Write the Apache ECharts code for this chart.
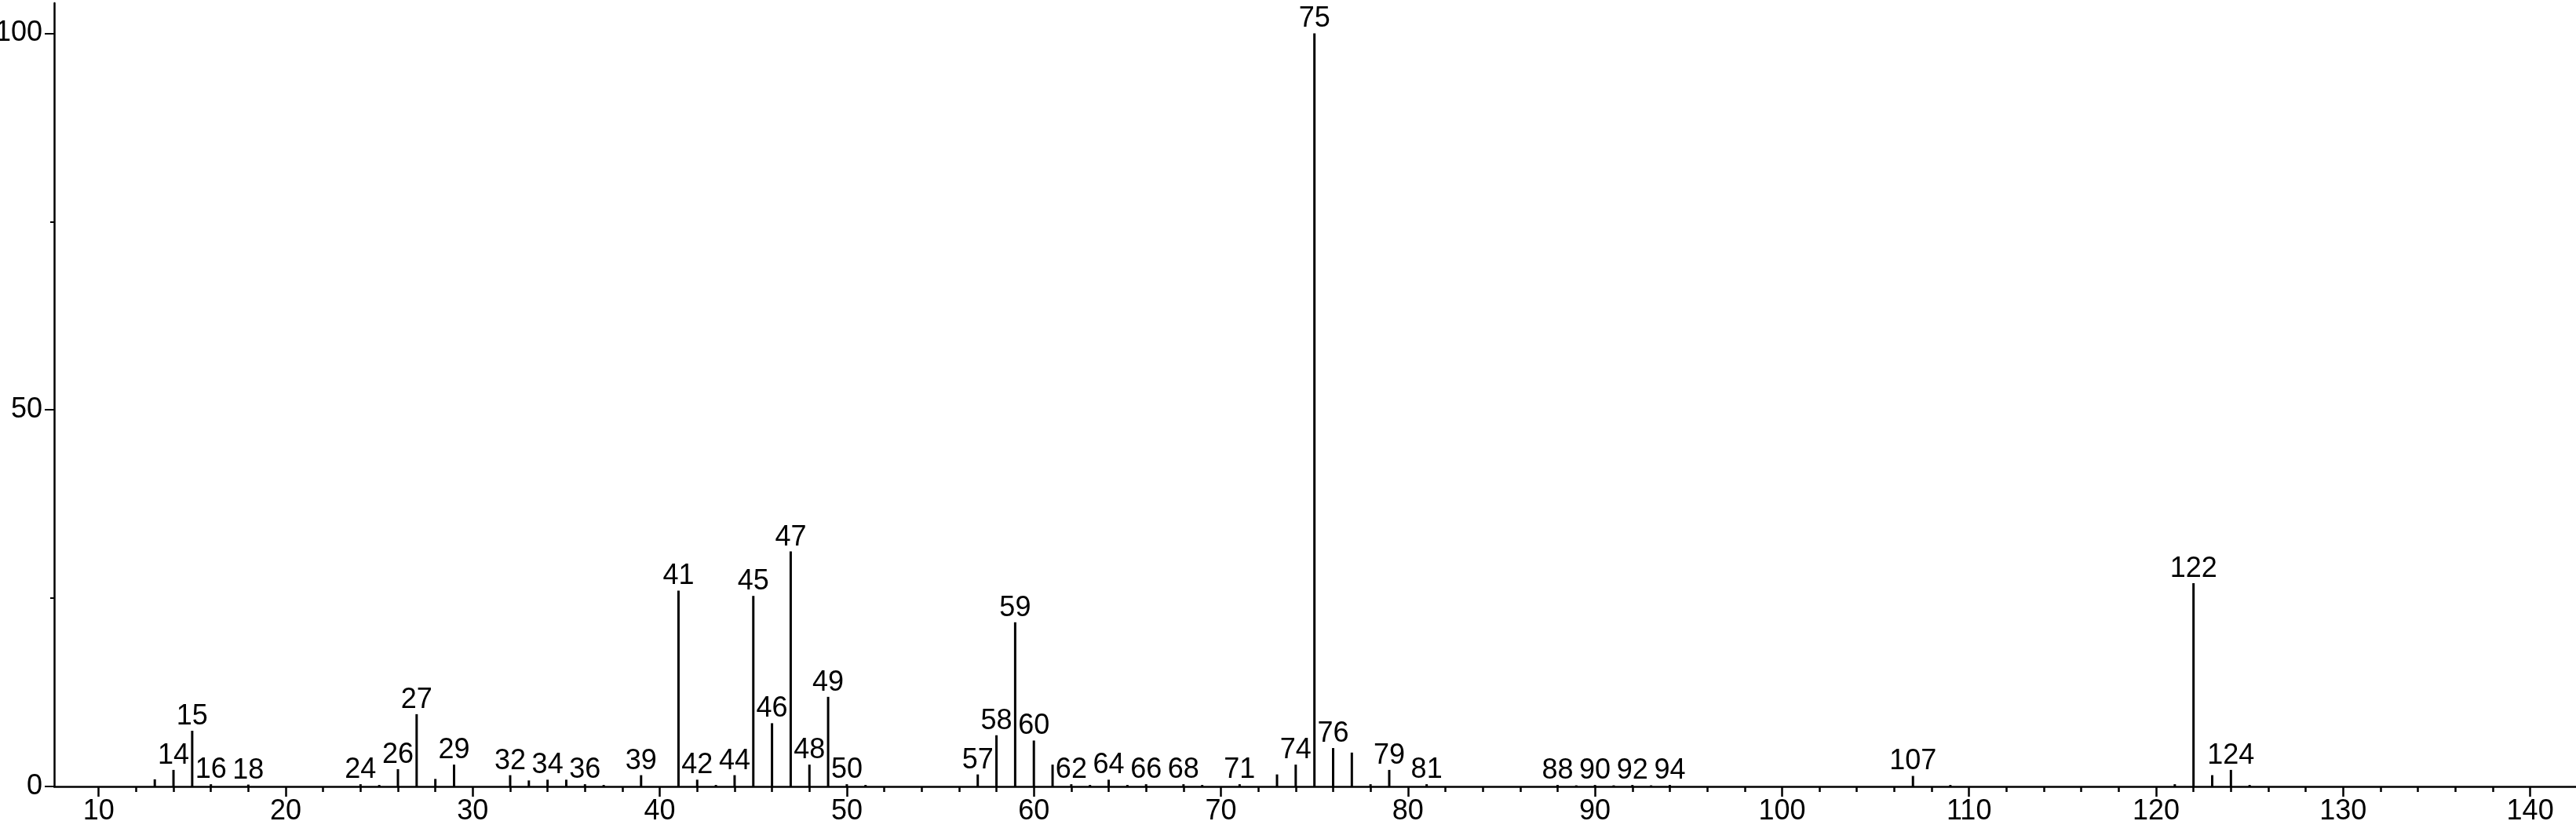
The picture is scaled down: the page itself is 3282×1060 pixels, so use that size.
<!DOCTYPE html>
<html>
<head>
<meta charset="utf-8">
<script src="https://cdn.jsdelivr.net/npm/echarts@6/dist/echarts.min.js"></script>
<style>
  html, body { margin: 0; padding: 0; background: #fff; }
  #spectrum { width: 3282px; height: 1060px; }
</style>
</head>
<body>
<div id="spectrum"></div>
<script>
// m/z of each peak and its relative intensity (base peak = 100)
const mz = [13, 14, 15, 16, 18, 24, 25, 26, 27, 28, 29, 32, 33, 34, 35, 36, 37, 39,
  41, 42, 43, 44, 45, 46, 47, 48, 49, 50, 51, 57, 58, 59, 60, 61, 62, 63, 64, 65, 66,
  68, 69, 71, 73, 74, 75, 76, 77, 78, 79, 81, 88, 89, 90, 91, 92, 93, 94, 107, 109,
  121, 122, 123, 124, 125];
const intensity = [0.95, 2.2, 7.4, 0.3, 0.25, 0.3, 0.2, 2.3, 9.6, 1.0, 2.9, 1.5, 0.8, 0.9, 0.9, 0.3, 0.2, 1.5,
  26.0, 0.9, 0.2, 1.5, 25.3, 8.4, 31.2, 2.9, 11.9, 0.3, 0.2, 1.6, 6.8, 21.8, 6.1, 2.9, 0.3, 0.2, 0.9, 0.2, 0.3,
  0.3, 0.2, 0.3, 1.6, 2.9, 100, 5.1, 4.5, 0.3, 2.2, 0.3, 0.2, 0.15, 0.2, 0.15, 0.2, 0.15, 0.2, 1.4, 0.2,
  0.3, 27.0, 1.5, 2.2, 0.2];
// peaks that carry an m/z label
const labelled = [14, 15, 16, 18, 24, 26, 27, 29, 32, 34, 36, 39, 41, 42, 44, 45, 46, 47, 48, 49, 50,
  57, 58, 59, 60, 62, 64, 66, 68, 71, 74, 75, 76, 79, 81, 88, 90, 92, 94, 107, 122, 124];
// axis ticks
const xMajorTicks = [10, 20, 30, 40, 50, 60, 70, 80, 90, 100, 110, 120, 130, 140];
const xMinorTicks = [];
for (let v = 12; v < 140; v += 2) {
  if (v % 10 !== 0) xMinorTicks.push(v);
}
const yTicks = [0, 50, 100];

const font = "'Liberation Sans Narrow', 'Liberation Sans', Arial, sans-serif";
const xMin = 7.62, xMax = 142.45;

let chart = echarts.init(document.getElementById("spectrum"));

let peaks = mz.map((m, i) => ({
  value: [m, intensity[i]],
  label: { show: labelled.indexOf(m) >= 0 }
}));

let option = {
  animation: false,
  grid: { left: 69, right: 0, top: 4, bottom: 58, outerBoundsMode: "none", containLabel: false },
  xAxis: [
    {
      type: "value",
      min: xMin,
      max: xMax,
      splitNumber: 13,
      axisLine: { onZero: false, lineStyle: { color: "#000", width: 2.5 } },
      axisTick: { customValues: xMajorTicks, length: 13, lineStyle: { color: "#000", width: 2.5 } },
      axisLabel: { customValues: xMajorTicks, color: "#000", fontSize: 36, fontFamily: font, margin: 14 },
      splitLine: { show: false }
    },
    {
      type: "value",
      min: xMin,
      max: xMax,
      position: "bottom",
      axisLine: { show: false },
      axisTick: { customValues: xMinorTicks, length: 7, lineStyle: { color: "#000", width: 2.5 } },
      axisLabel: { show: false },
      splitLine: { show: false }
    }
  ],
  yAxis: {
    type: "value",
    min: 0,
    max: 104,
    interval: 50,
    axisLine: { show: true, lineStyle: { color: "#000", width: 2.5 } },
    axisTick: { show: true, customValues: yTicks, length: 12, lineStyle: { color: "#000", width: 2 } },
    minorTick: { show: true, splitNumber: 2, length: 5, lineStyle: { color: "#000", width: 2 } },
    axisLabel: { customValues: yTicks, color: "#000", fontSize: 36, fontFamily: font, margin: 15 },
    splitLine: { show: false }
  },
  series: [
    {
      type: "bar",
      xAxisIndex: 0,
      barWidth: 3,
      itemStyle: { color: "#000" },
      label: {
        position: "top",
        distance: 0,
        color: "#000",
        fontSize: 36,
        fontFamily: font,
        formatter: p => p.value[0]
      },
      data: peaks
    }
  ]
};
chart.setOption(option);
</script>
</body>
</html>
